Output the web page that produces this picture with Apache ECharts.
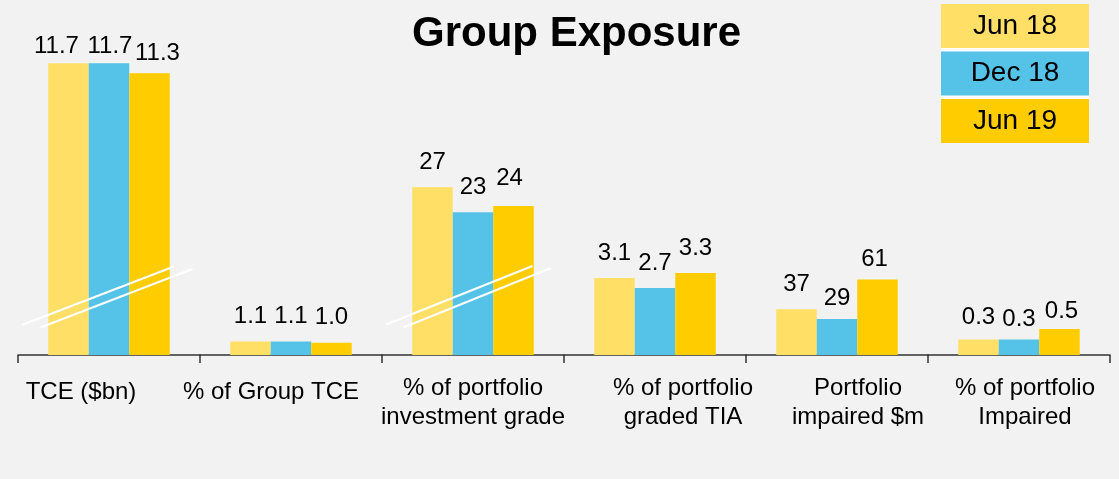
<!DOCTYPE html>
<html>
<head>
<meta charset="utf-8">
<script src="https://cdn.jsdelivr.net/npm/echarts@6/dist/echarts.min.js"></script>
<style>
  html, body { margin: 0; padding: 0; background: #f2f2f2; }
  #chart { width: 1119px; height: 479px; }
</style>
</head>
<body>
<div id="chart"></div>
<script>
// ---- data ----
const categories = [
  'TCE ($bn)',
  '% of Group TCE',
  '% of portfolio\ninvestment grade',
  '% of portfolio\ngraded TIA',
  'Portfolio\nimpaired $m',
  '% of portfolio\nImpaired'
];
const periods = ['Jun 18', 'Dec 18', 'Jun 19'];
const jun18 = [11.7, 1.1, 27, 3.1, 37, 0.3];
const dec18 = [11.7, 1.1, 23, 2.7, 29, 0.3];
const jun19 = [11.3, 1.0, 24, 3.3, 61, 0.5];
const decimals = [1, 1, 0, 1, 0, 1];

// ---- layout & style ----
const FONT = "'Liberation Sans', Arial, sans-serif";
const colors = ['#FFDF66', '#55C3E8', '#FFCC00'];
const panelLeft = 18, panelWidth = 182, plotTop = 55, plotBottom = 124;
// every metric sits on its own value scale (the axis is broken between metrics)
const panelMax = [12.03, 24.4, 48.3, 12.08, 242, 5.77];
// small hand placements of the value labels, [dx, dy] per period and metric
const labelNudge = [
  [[-12, 8], [0, 0], [0, 0], [0, 0], [0, 0], [0, 3]],
  [[1, 8], [0, 0], [0, 0], [0, 0], [0, 4], [0, 5]],
  [[8, 5], [0, 0], [-4, -3], [0, 0], [-3, 5], [2, 7]]
];
// horizontal shift of each metric caption
const captionShift = [-28, -20, 0, 28, 21, 6];

const seriesValues = [jun18, dec18, jun19];

const grids = [], xAxes = [], yAxes = [], series = [];
categories.forEach((cat, i) => {
  grids.push({
    left: panelLeft + panelWidth * i,
    width: panelWidth,
    top: plotTop,
    bottom: plotBottom
  });
  const sh = captionShift[i];
  xAxes.push({
    type: 'category',
    gridIndex: i,
    data: [cat],
    axisLine: { show: true, lineStyle: { color: '#333', width: 1.5 } },
    axisTick: { show: true, length: 8, lineStyle: { color: '#333', width: 1.5 } },
    axisLabel: {
      fontFamily: FONT,
      fontSize: 24,
      lineHeight: 29,
      color: '#000',
      margin: cat.indexOf('\n') >= 0 ? 19 : 23,
      padding: sh >= 0 ? [0, 0, 0, 2 * sh] : [0, -2 * sh, 0, 0]
    }
  });
  yAxes.push({
    type: 'value',
    gridIndex: i,
    min: 0,
    max: panelMax[i],
    show: false,
    splitLine: { show: false }
  });
  seriesValues.forEach((vals, s) => {
    const nudge = labelNudge[s][i];
    series.push({
      type: 'bar',
      name: periods[s],
      xAxisIndex: i,
      yAxisIndex: i,
      barWidth: 40.5,
      barGap: '0%',
      itemStyle: { color: colors[s] },
      label: {
        show: true,
        position: 'top',
        distance: 13,
        fontFamily: FONT,
        fontSize: 24,
        color: '#000',
        offset: nudge,
        formatter: p => Number(p.value).toFixed(decimals[i])
      },
      data: [vals[i]]
    });
  });
});

const richLegend = {};
periods.forEach((p, k) => {
  richLegend['p' + k] = {
    width: 148,
    height: 44,
    lineHeight: 44,
    align: 'center',
    verticalAlign: 'middle',
    backgroundColor: colors[k],
    fontFamily: FONT,
    fontSize: 28,
    color: '#000'
  };
});

const chart = echarts.init(document.getElementById('chart'), null, { renderer: 'canvas' });
chart.setOption({
  backgroundColor: '#f2f2f2',
  animation: false,
  title: {
    text: 'Group Exposure',
    left: 412,
    top: 13,
    padding: 0,
    textStyle: { fontFamily: FONT, fontSize: 42, fontWeight: 'bold', color: '#000' }
  },
  legend: {
    orient: 'vertical',
    left: 936,
    top: 4,
    padding: 0,
    itemGap: 3.5,
    itemWidth: 0,
    itemHeight: 44,
    icon: 'rect',
    itemStyle: { opacity: 0 },
    data: periods,
    formatter: name => '{p' + periods.indexOf(name) + '|' + name + '}',
    textStyle: { rich: richLegend }
  },
  graphic: [
    // white backing that shows between the legend swatches
    { type: 'rect', z: 1, shape: { x: 941, y: 4, width: 148, height: 139 }, style: { fill: '#fff' } },
    // axis-break marks
    { type: 'line', z: 100, shape: { x1: 22, y1: 325, x2: 174, y2: 266.5 }, style: { stroke: '#fff', lineWidth: 2.2 } },
    { type: 'line', z: 100, shape: { x1: 40.5, y1: 327.5, x2: 192.5, y2: 269 }, style: { stroke: '#fff', lineWidth: 2.2 } },
    { type: 'line', z: 100, shape: { x1: 386, y1: 324.5, x2: 532.5, y2: 266 }, style: { stroke: '#fff', lineWidth: 2.2 } },
    { type: 'line', z: 100, shape: { x1: 403.5, y1: 327.5, x2: 551, y2: 268 }, style: { stroke: '#fff', lineWidth: 2.2 } }
  ],
  grid: grids,
  xAxis: xAxes,
  yAxis: yAxes,
  series: series
});
</script>
</body>
</html>
